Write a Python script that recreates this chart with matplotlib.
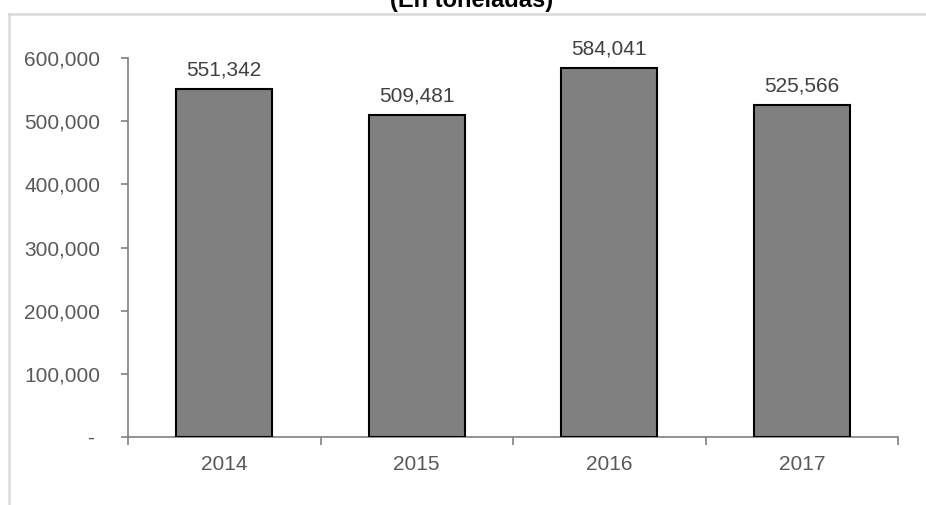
import matplotlib.pyplot as plt
from matplotlib.lines import Line2D

years = ["2014", "2015", "2016", "2017"]
tonnes = [551342, 509481, 584041, 525566]
y_ticks = [0, 100000, 200000, 300000, 400000, 500000, 600000]

plt.rcParams["font.family"] = ["Liberation Sans", "DejaVu Sans"]

fig = plt.figure(figsize=(9.26, 5.05), dpi=100)
ax = fig.add_axes([128 / 926, 1 - 437 / 505, 770 / 926, 379 / 505])

x = list(range(len(years)))
ax.bar(x, tonnes, width=0.5, color="#808080", edgecolor="black", linewidth=1.5, zorder=3)

for xi, v in zip(x, tonnes):
    ax.annotate(f"{v:,}", (xi, v), xytext=(0, 7), textcoords="offset points",
                ha="center", va="bottom", fontsize=15, color="#404040")

ax.set_xlim(-0.5, len(years) - 0.5)
ax.set_ylim(0, 600000)

ax.set_yticks(y_ticks)
ax.set_yticklabels([f"{t:,}" if t else "- " for t in y_ticks])
ax.set_xticks([i - 0.5 for i in range(len(years) + 1)], minor=False)
ax.set_xticklabels([])
ax.set_xticks(x, minor=True)
ax.set_xticklabels(years, minor=True)

ax.tick_params(axis="y", length=5, width=1.2, color="#808080", pad=15,
               labelsize=15, labelcolor="#595959")
ax.tick_params(axis="x", which="major", length=6, width=1.2, color="#808080")
ax.tick_params(axis="x", which="minor", length=0, pad=13,
               labelsize=15, labelcolor="#595959")

for side in ["top", "right"]:
    ax.spines[side].set_visible(False)
for side in ["left", "bottom"]:
    ax.spines[side].set_color("#808080")
    ax.spines[side].set_linewidth(1.2)

# outer chart frame, partly clipped like the original screenshot
fig.add_artist(Line2D([9 / 926, 1], [1 - 14 / 505] * 2, color="#d9d9d9", lw=1.8))
fig.add_artist(Line2D([9 / 926] * 2, [0, 1 - 14 / 505], color="#d9d9d9", lw=1.8))

fig.text(472 / 926, 1 - 7 / 505, "(En toneladas)", ha="center", va="baseline",
         fontsize=17, fontweight="bold", color="black")

fig.savefig("out.png", dpi=100)
